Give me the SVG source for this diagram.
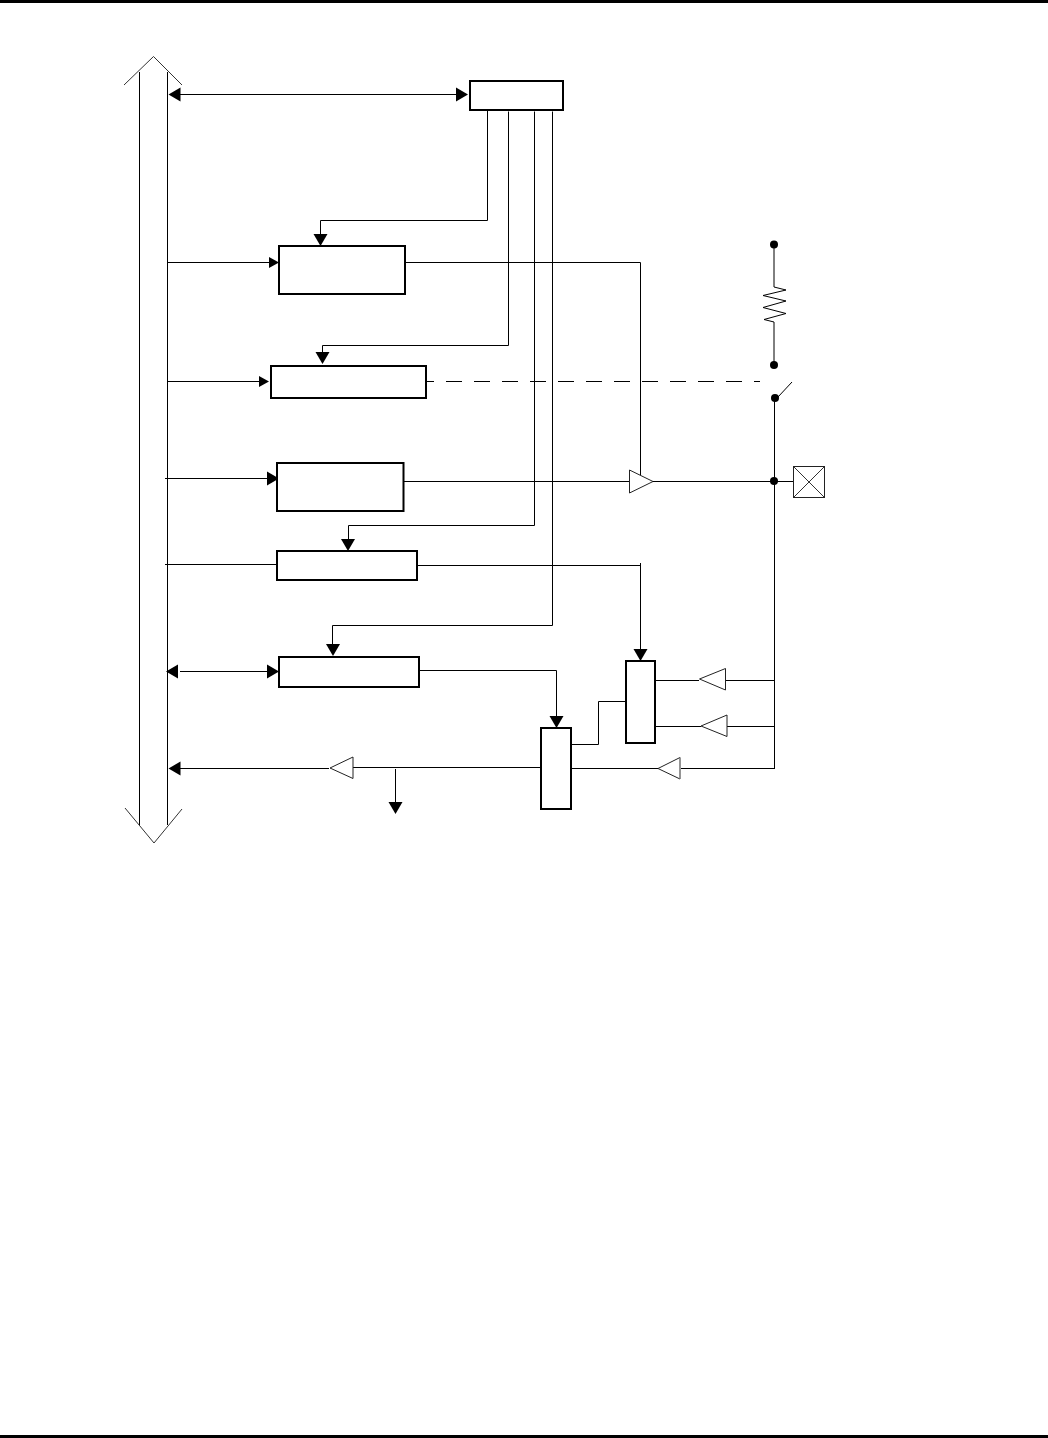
<svg xmlns="http://www.w3.org/2000/svg" width="1048" height="1438" viewBox="0 0 1048 1438">
<style>
.w{fill:none;stroke:#000;stroke-width:1}
.t{fill:none;stroke:#333;stroke-width:1}
.b{fill:#fff;stroke:#000;stroke-width:2}
.g{fill:#fff;stroke:#222;stroke-width:1}
.h{fill:#000;stroke:none}
</style>
<defs>
<path id="ar" class="h" d="M0 0L-12 -7V7Z"/>
<path id="al" class="h" d="M0 0L12 -7V7Z"/>
<path id="ad" class="h" d="M0 0L-7 -12H7Z"/>
<path id="ars" class="h" d="M0 0L-10 -5.500V5.500Z"/>
</defs>
<rect width="1048" height="1438" fill="#fff"/>
<rect id="page-top" x="0" y="0" width="1048" height="3" fill="#000"/>
<rect id="page-bottom" x="0" y="1435" width="1048" height="3" fill="#000"/>
<g id="connectors">
<path class="w" d="M180 94.500H458M487.500 110V220.500H320.500V234M167 262.500H270M406 262.500H640.500V475M508.500 111.500V345.500H322.500V356M167 381.500H260M534.500 111.500V525.500H348.500V540M552.500 111.500V625.500H332.500V647M165 478.500H268M404 481.500H630M652 481.500H794M165 564.500H277M417 565.500H640.500M640.500 563V650M180 671.500H268M419 670.500H556.500V717M571 744.500H598.500V701.500H626M656 680.500H699M725 680.500H774M656 726.500H701M727 726.500H774M570 768.500H658M681 768.500H774.500M774.500 398V769M540 767.500H353M329 768.500H180M395.500 769V803"/>
<path class="w" d="M774 244V287M774 322V365"/>
<path class="w" d="M774 287L786 290L763 295.500L786 301L763 307.500L786 313.500L764 319.500L774 322"/>
<path class="w" d="M778 397L792 382"/>
<path class="w" d="M427 381.500H434"/>
<path class="w" stroke-dasharray="16 12" d="M446 381.500H760"/>
<use href="#al" x="168.500" y="94.500"/><use href="#ar" x="468" y="94.500"/>
<use href="#ad" x="320.500" y="246"/>
<use href="#ars" x="279" y="262.500"/>
<use href="#ad" x="322.500" y="364"/>
<use href="#ars" x="269" y="381.500"/>
<use href="#ar" x="279" y="478.500"/>
<use href="#ad" x="348" y="551"/>
<use href="#ad" x="333" y="656"/>
<use href="#al" x="166" y="671.500"/><use href="#ar" x="279" y="671.500"/>
<use href="#ad" x="640.500" y="661"/>
<use href="#ad" x="556.500" y="728"/>
<use href="#al" x="168.500" y="768.500"/>
<use href="#ad" x="395.500" y="814"/>
</g>
<g id="bus">
<path class="w" d="M139.500 72V825M167.500 72V825"/>
<path class="t" d="M124 85L153.500 56.500L182 85M125 808L154 843L182 809"/>
</g>
<g id="box-top"><rect class="b" x="470" y="81" width="93" height="29"/></g>
<g id="box-a"><rect class="b" x="279" y="246" width="126" height="48"/></g>
<g id="box-b"><rect class="b" x="271" y="366" width="155" height="32"/></g>
<g id="box-c"><rect class="b" x="277" y="463" width="126.500" height="48"/></g>
<g id="box-d"><rect class="b" x="277" y="551" width="140" height="29"/></g>
<g id="box-e"><rect class="b" x="279" y="657" width="140" height="30"/></g>
<g id="mux-upper"><rect class="b" x="626" y="661" width="29" height="82"/></g>
<g id="mux-lower"><rect class="b" x="541" y="728" width="30" height="81"/></g>
<g id="buffer-out"><path class="g" d="M629.500 470V493L653 481.500Z"/></g>
<g id="buffer-1"><path class="g" d="M725.500 668.500V690L699.500 679Z"/></g>
<g id="buffer-2"><path class="g" d="M727 715V736.500L701 726Z"/></g>
<g id="buffer-3"><path class="g" d="M680 757.500V779L658 768.500Z"/><path d="M680 757.500V779" fill="none" stroke="#999" stroke-width="1"/></g>
<g id="buffer-4"><path class="g" d="M353 757V778.500L330 768Z"/></g>
<g id="pin"><rect class="g" x="793.500" y="466.500" width="31" height="31"/><path class="t" d="M794 467L824 497M824 467L794 497"/></g>
<g id="dots" class="h">
<circle cx="774" cy="244.500" r="4"/><circle cx="774" cy="365" r="4"/><circle cx="775" cy="398" r="4"/><circle cx="774" cy="481" r="4"/>
</g>
</svg>
